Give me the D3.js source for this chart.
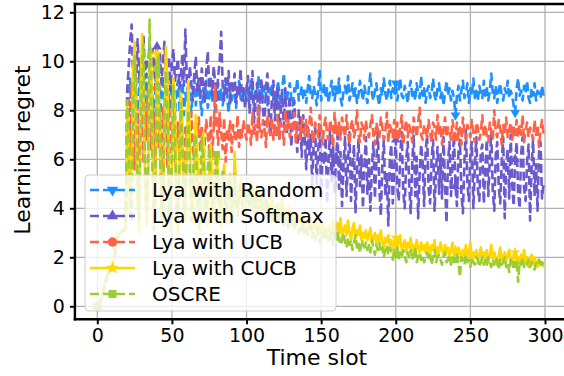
<!DOCTYPE html>
<html><head><meta charset="utf-8">
<script src="https://cdn.jsdelivr.net/npm/d3@7"></script>
<style>body{margin:0;background:#fff}svg{display:block}text{font-family:"DejaVu Sans",sans-serif;fill:#000}</style>
</head><body><svg id="c" width="564" height="376"></svg>
<script>
const xTicks=[0,50,100,150,200,250,300];
const yTicks=[0,2,4,6,8,10,12];
const seriesNames=["Lya with Random","Lya with Softmax","Lya with UCB","Lya with CUCB","OSCRE"];
const warmup=[0.0,0.1,0.2,0.4,0.6,0.9,1.1,1.3,1.5,1.6,1.7,1.9,2.2,2.6,2.9,3.0,3.0,3.1,3.1,3.2];
const randomVals=warmup.concat([
7.8,8.6,9.3,7.2,8.9,9.6,8.1,7.4,9.0,9.8,8.3,7.0,8.8,9.5,8.0,7.6,9.2,8.5,7.3,9.1,
9.7,8.2,7.5,8.9,9.4,7.9,8.6,9.3,7.7,8.4,9.0,8.1,7.6,8.8,9.2,8.0,8.5,9.4,7.8,8.7,
8.3,9.1,8.6,7.9,8.8,9.3,8.2,8.7,9.0,8.4,7.8,8.9,8.5,9.2,8.1,8.6,9.4,8.3,8.8,8.0,
8.7,9.1,8.4,8.9,8.2,8.6,9.3,8.5,7.9,8.8,8.4,9.0,8.6,8.1,8.9,9.2,8.5,8.3,8.8,8.6,
9.0,8.4,8.7,9.2,8.5,8.2,8.9,8.6,9.4,8.3,8.8,8.5,9.0,8.7,8.2,8.9,8.6,9.1,8.4,8.8,
8.5,9.2,8.7,8.3,8.9,9.5,8.6,8.4,8.8,9.1,8.5,8.2,8.9,8.7,9.3,8.4,8.6,9.0,8.5,8.8,
8.3,8.9,9.4,8.6,8.5,9.0,8.7,8.2,8.8,9.6,8.4,8.7,9.1,8.5,8.9,8.3,8.8,9.2,8.6,8.4,
8.9,8.7,9.3,8.5,8.2,8.8,9.0,8.6,9.4,8.4,8.7,9.1,8.5,8.9,8.3,8.6,9.2,8.8,8.4,9.0,
8.6,8.3,8.9,9.5,8.7,8.4,8.8,9.1,8.5,8.2,8.9,8.6,9.3,8.7,8.4,8.8,9.2,8.5,8.9,8.6,
9.1,8.4,8.8,9.3,8.6,8.5,9.0,8.7,8.3,8.9,9.2,8.6,8.8,8.4,9.1,8.7,8.5,9.4,8.6,8.9,
8.3,8.8,9.0,8.5,8.7,9.3,8.6,8.4,8.9,9.1,8.5,8.8,8.2,8.7,9.2,8.6,8.9,8.4,8.8,8.5,
7.8,8.6,9.0,8.4,8.8,9.2,8.5,8.7,9.1,8.3,8.9,8.6,9.3,8.5,8.8,8.4,9.0,8.7,8.5,9.2,
8.6,8.9,8.4,8.8,9.5,8.7,8.5,9.0,8.3,8.8,9.1,8.6,8.4,8.9,8.7,9.2,8.5,8.8,8.6,8.2,
7.9,8.9,9.3,8.6,8.8,8.4,9.0,8.7,9.2,8.5,8.3,8.9,8.6,9.1,8.4,8.8,8.7,8.5,9.0,8.6]);
const softmaxVals=warmup.concat([
8.8,9.7,10.8,11.5,9.4,10.2,9.0,10.9,9.6,8.7,10.4,11.0,9.3,10.1,9.8,10.7,9.2,10.5,9.9,8.9,
10.6,9.5,10.3,9.1,10.0,10.8,9.4,9.7,10.2,8.8,9.9,10.5,9.2,9.6,10.1,8.9,9.4,10.3,9.0,11.3,
9.2,8.6,9.8,9.1,8.4,9.5,10.2,8.8,9.3,8.5,9.7,9.0,8.3,9.6,10.4,8.9,9.2,8.6,9.8,9.1,
8.5,9.4,10.0,11.2,9.0,8.4,9.3,8.7,9.6,8.2,9.1,8.8,9.5,8.3,9.0,8.6,9.7,8.4,8.9,8.1,
8.8,9.4,7.9,8.6,9.6,7.5,8.4,9.1,7.2,8.7,9.3,8.0,7.4,8.9,9.5,7.8,7.0,8.5,9.2,7.6,
8.3,9.0,6.8,8.1,8.7,7.3,8.9,7.0,7.9,8.6,6.5,7.7,8.4,7.1,6.3,8.0,7.5,6.1,7.8,6.9,
5.6,7.4,6.2,7.0,4.9,6.7,7.3,5.0,6.4,7.1,4.5,6.3,5.8,6.9,4.2,6.0,7.2,5.1,6.5,4.6,
6.1,7.0,4.8,6.3,4.1,5.8,6.9,4.5,5.9,7.1,4.3,5.7,6.6,3.8,5.5,6.8,4.9,6.2,4.0,5.8,
6.9,4.6,6.0,3.9,5.7,6.7,4.4,5.9,7.2,4.8,3.7,5.8,6.8,4.5,5.4,3.3,6.0,6.6,4.2,5.6,
6.8,4.9,4.3,6.2,7.1,4.7,4.0,6.0,6.7,5.0,3.8,5.8,7.0,4.5,6.1,3.6,5.4,6.6,5.9,4.1,
6.3,7.0,4.8,4.2,6.0,6.8,3.9,5.6,6.5,4.6,6.2,4.4,6.9,5.0,3.4,5.9,6.7,4.5,5.8,7.0,
4.9,4.1,6.3,6.8,4.6,3.8,5.9,7.2,5.0,4.3,6.2,6.7,4.0,5.7,6.9,4.8,4.3,6.3,6.6,4.2,
5.6,6.8,4.5,6.0,7.1,4.7,3.9,6.2,6.7,4.9,4.2,5.9,6.9,3.6,5.8,6.4,4.4,7.0,5.0,4.1,
6.0,6.7,4.6,4.0,6.2,6.9,4.8,4.3,5.9,6.6,3.5,5.6,6.8,4.5,5.8,3.9,6.3,6.7,4.4,5.0]);
const ucbVals=warmup.concat([
7.6,8.4,6.2,9.1,7.0,5.6,8.7,7.3,6.0,9.4,7.8,5.9,8.2,6.8,9.0,7.1,6.4,8.5,5.8,7.7,
8.9,6.5,7.4,5.4,8.1,6.9,7.8,5.7,8.6,6.3,7.2,8.0,5.9,6.8,7.5,6.1,7.9,6.6,5.5,7.3,
6.8,7.5,6.2,7.9,6.5,5.8,7.2,6.9,7.7,6.3,7.4,5.6,6.7,7.6,7.0,6.4,7.8,6.1,7.3,9.0,
7.5,6.6,7.9,7.1,6.4,7.7,5.9,7.2,6.8,7.6,6.3,7.4,7.0,6.7,7.8,6.5,7.3,6.9,7.6,7.1,
6.8,7.5,7.2,6.6,7.9,7.0,7.4,6.7,8.2,7.1,6.9,7.6,7.3,6.5,7.8,7.2,7.0,7.7,6.8,7.4,
7.1,7.8,6.9,7.5,7.3,6.6,8.0,7.2,7.6,6.9,7.4,7.1,7.9,6.7,7.5,7.3,6.8,7.7,7.2,7.0,
7.6,6.9,7.4,8.1,7.1,6.7,7.5,7.3,6.9,7.8,7.2,6.6,7.4,7.7,7.0,6.8,7.6,7.3,6.5,7.9,
7.2,7.0,7.5,6.8,7.7,7.3,6.9,7.8,7.1,6.6,7.4,7.6,6.9,7.2,8.0,7.0,6.7,7.5,7.3,6.8,
7.6,7.1,6.9,7.4,7.8,7.0,6.6,7.5,7.2,6.9,7.7,7.3,6.8,7.1,7.9,6.7,7.4,7.2,6.9,7.6,
7.0,7.5,6.8,7.3,7.8,6.6,7.2,7.6,6.9,7.4,7.1,6.7,7.7,7.3,6.9,7.5,8.1,7.0,6.8,7.4,
7.2,6.9,7.6,7.1,6.7,7.5,7.3,6.8,7.8,7.0,7.4,6.6,7.2,7.7,6.9,7.3,7.1,6.8,7.6,7.2,
6.9,7.5,7.0,7.3,6.6,7.7,7.1,6.8,7.4,7.2,6.9,7.6,7.0,6.7,7.5,7.3,6.8,7.1,7.8,6.9,
7.4,7.0,6.7,7.5,7.2,6.8,8.0,7.1,6.9,7.6,7.3,6.6,7.4,7.0,7.7,6.9,7.2,7.5,6.8,7.3,
7.1,7.6,6.9,7.4,7.0,7.8,6.7,7.2,7.5,6.9,7.3,7.1,6.8,7.6,7.0,7.4,6.5,7.2,7.6,7.0]);
const cucbVals=warmup.concat([
8.2,6.4,3.8,5.9,9.5,10.8,7.2,4.1,3.0,8.6,11.1,8.9,5.2,3.3,4.8,9.9,10.5,6.7,3.6,4.2,
10.3,8.8,7.0,4.0,3.2,7.4,10.6,9.1,5.5,3.1,5.8,9.3,8.4,4.6,2.9,5.2,8.7,7.6,4.4,3.5,
6.3,9.2,6.8,4.1,3.4,5.9,7.8,6.2,3.9,3.1,5.4,7.1,5.6,3.7,3.3,5.5,6.6,4.9,3.5,4.2,
6.0,5.3,3.8,3.2,4.9,5.8,4.6,3.4,4.1,5.4,4.4,3.6,6.3,4.8,4.0,4.7,5.2,4.3,3.9,4.6,
4.9,4.2,4.5,5.1,4.0,4.4,4.8,3.9,4.3,4.7,4.1,3.8,4.5,4.0,4.3,3.7,4.2,4.6,3.9,4.1,
3.8,4.2,3.6,4.0,4.4,3.7,3.9,3.5,4.1,3.8,3.4,3.9,3.6,3.3,3.8,3.5,3.7,3.2,3.6,3.4,
3.5,3.1,3.6,3.3,3.0,3.4,3.2,3.5,2.9,3.3,3.1,3.4,2.8,3.2,3.0,3.3,2.9,3.1,3.5,2.9,
3.2,3.4,3.0,3.6,2.8,3.1,3.3,2.9,3.5,3.0,2.7,3.2,3.4,2.8,3.1,2.9,3.3,2.7,3.0,2.8,
3.1,2.7,2.9,3.2,2.6,2.8,3.0,2.5,2.9,2.7,3.1,2.6,2.4,2.8,2.6,2.9,2.5,2.7,2.3,2.6,
2.8,2.4,2.6,2.9,2.3,2.5,2.7,2.2,2.6,2.4,2.8,2.3,2.5,2.1,2.7,2.4,2.2,2.6,2.3,2.5,
2.2,2.6,2.4,2.1,2.5,2.3,2.7,2.0,2.4,2.2,2.6,2.3,2.1,2.5,2.2,2.4,2.0,2.3,2.6,2.1,
2.3,2.0,2.4,2.2,1.9,2.3,2.1,2.5,2.0,2.2,2.6,1.9,2.2,2.0,2.3,1.8,2.1,2.4,1.9,2.2,
2.0,2.3,1.8,2.1,2.5,1.9,2.2,2.0,1.7,2.1,2.4,1.9,2.0,2.2,1.8,2.1,2.3,1.9,1.7,2.0,
2.2,1.8,2.0,1.7,2.1,1.9,2.3,1.8,2.0,1.6,1.9,2.1,1.7,2.0,1.8,1.6,1.9,1.7,1.8,1.6]);
const oscreVals=warmup.concat([
8.4,7.0,4.5,3.4,7.8,10.2,8.3,5.0,3.6,6.9,9.8,10.7,6.1,3.9,5.5,11.7,9.0,5.3,3.1,5.7,
9.7,10.3,6.4,3.6,4.2,8.1,9.6,7.8,4.3,3.4,6.7,9.0,7.2,3.9,3.5,6.2,8.3,6.5,3.8,4.1,
7.2,8.0,5.4,3.5,4.6,7.0,6.8,4.3,3.2,5.2,6.9,6.1,4.0,3.6,5.6,6.5,5.0,3.7,4.4,5.8,
6.2,4.6,3.5,4.3,5.6,5.1,3.9,4.0,5.3,4.7,3.8,4.5,5.5,4.2,3.7,4.6,5.0,4.1,4.4,4.8,
4.3,4.7,4.0,4.4,4.9,3.8,4.2,4.6,3.9,4.1,4.5,3.7,4.0,4.3,3.6,4.1,3.9,3.5,4.0,3.8,
3.6,3.9,3.4,3.8,3.5,3.3,3.7,3.4,3.2,3.6,3.3,3.5,3.1,3.4,3.2,3.0,3.3,3.1,3.4,3.0,
3.2,2.9,3.1,3.3,2.8,3.0,2.7,3.2,2.9,2.6,3.0,2.8,3.1,2.7,2.9,2.6,2.8,3.0,2.5,2.7,
2.9,2.6,2.8,2.5,2.7,3.0,2.6,2.4,2.8,2.5,2.7,2.3,2.6,2.9,2.4,2.6,2.2,2.5,2.7,2.4,
2.6,2.3,2.5,2.2,2.7,2.4,2.1,2.5,2.3,2.6,2.2,2.4,2.0,2.3,2.5,2.1,2.4,2.2,1.9,2.3,
2.1,2.4,1.9,2.2,2.0,2.3,2.1,1.8,2.2,2.0,2.3,1.9,2.1,2.4,1.8,2.0,2.2,1.9,2.1,1.8,
2.0,2.2,1.9,2.1,1.7,2.0,2.3,1.8,2.0,2.1,1.9,1.7,2.0,2.2,1.8,1.9,2.1,1.7,2.0,1.8,
1.9,2.1,1.8,1.2,2.0,1.9,1.7,2.1,1.8,1.9,1.6,2.0,1.8,1.7,2.0,1.9,1.6,1.8,2.0,1.7,
1.9,1.7,2.0,1.8,1.6,1.9,1.7,2.0,1.8,1.5,1.9,1.7,1.8,2.0,1.6,1.8,1.4,1.9,1.7,1.8,
1.7,1.9,1.0,1.8,1.7,2.0,1.6,1.8,1.7,1.9,1.6,1.8,1.7,1.5,1.8,1.7,1.9,1.6,1.8,1.7]);

const colors=["#1E90FF","#6A5ACD","#FF6347","#FFD700","#9ACD32"];
const dashes=["9,4","9,4","9,4",null,"9,4"];
const symbols=[d3.symbolTriangle,d3.symbolTriangle,d3.symbolCircle,d3.symbolStar,d3.symbolSquare];
const symRot=[180,0,0,0,0];
const symSize=[40,40,50,40,45];
const allSeries=[randomVals,softmaxVals,ucbVals,cucbVals,oscreVals];

const svg=d3.select("#c");
const x=d3.scaleLinear().domain([0,300]).range([97.3,545]);
const y=d3.scaleLinear().domain([0,12]).range([306.3,12.3]);
const L=x(-15), R=564, T=4, B=319.3;

const g=svg.append("g");
g.selectAll(".gx").data(xTicks).enter().append("line")
 .attr("x1",d=>x(d)).attr("x2",d=>x(d)).attr("y1",T).attr("y2",B)
 .attr("stroke","#b0b0b0").attr("stroke-width",1.3);
g.selectAll(".gy").data(yTicks).enter().append("line")
 .attr("x1",L).attr("x2",R).attr("y1",d=>y(d)).attr("y2",d=>y(d))
 .attr("stroke","#b0b0b0").attr("stroke-width",1.3);

svg.append("clipPath").attr("id","clip").append("rect")
 .attr("x",L).attr("y",T).attr("width",R-L).attr("height",B-T);
const plot=svg.append("g").attr("clip-path","url(#clip)");
const line=d3.line().x((d,i)=>x(i)).y(d=>y(d));
allSeries.forEach((s,k)=>{
  const p=plot.append("path").datum(s).attr("d",line).attr("fill","none")
   .attr("stroke",colors[k]).attr("stroke-width",2.6).attr("stroke-linejoin","round");
  if(dashes[k]) p.attr("stroke-dasharray",dashes[k]);
  const marks=s.map((v,i)=>[i,v]).filter(d=>d[0]%40===0);
  plot.selectAll(null).data(marks).enter().append("path")
   .attr("d",d3.symbol().type(symbols[k]).size(symSize[k]))
   .attr("transform",d=>`translate(${x(d[0])},${y(d[1])}) rotate(${symRot[k]})`)
   .attr("fill",colors[k]);
});

svg.append("line").attr("x1",L).attr("x2",L).attr("y1",T-1.2).attr("y2",B+1.2).attr("stroke","#000").attr("stroke-width",2.4);
svg.append("line").attr("x1",L-1.2).attr("x2",R).attr("y1",B).attr("y2",B).attr("stroke","#000").attr("stroke-width",2.4);
svg.append("line").attr("x1",L-1.2).attr("x2",R).attr("y1",T).attr("y2",T).attr("stroke","#000").attr("stroke-width",2.4);

const xa=svg.append("g").attr("transform",`translate(0,${B})`)
 .call(d3.axisBottom(x).tickValues(xTicks).tickSize(5).tickPadding(4));
const ya=svg.append("g").attr("transform",`translate(${L},0)`)
 .call(d3.axisLeft(y).tickValues(yTicks).tickSize(5).tickPadding(5));
[xa,ya].forEach(a=>{a.select(".domain").remove();
 a.selectAll(".tick line").attr("stroke","#000").attr("stroke-width",2);
 a.selectAll("text").attr("font-family","DejaVu Sans").attr("font-size",19).attr("fill","#000");});

svg.append("text").attr("x",317).attr("y",365).attr("text-anchor","middle").attr("font-size",22).text("Time slot");
svg.append("text").attr("transform","translate(30,150) rotate(-90)").attr("text-anchor","middle").attr("font-size",22).text("Learning regret");

const lg=svg.append("g");
lg.append("rect").attr("x",85).attr("y",175).attr("width",251).attr("height",136).attr("rx",4)
 .attr("fill","#fff").attr("fill-opacity",0.8).attr("stroke","#cccccc").attr("stroke-width",1);
seriesNames.forEach((nm,k)=>{
  const cy=190+k*26;
  const ln=lg.append("line").attr("x1",90).attr("x2",135).attr("y1",cy).attr("y2",cy)
   .attr("stroke",colors[k]).attr("stroke-width",2.6);
  if(dashes[k]) ln.attr("stroke-dasharray",dashes[k]);
  lg.append("path").attr("d",d3.symbol().type(symbols[k]).size(symSize[k]*1.4))
   .attr("transform",`translate(112.5,${cy}) rotate(${symRot[k]})`).attr("fill",colors[k]);
  lg.append("text").attr("x",152).attr("y",cy).attr("dy","0.36em").attr("font-size",20).text(nm);
});
</script></body></html>
